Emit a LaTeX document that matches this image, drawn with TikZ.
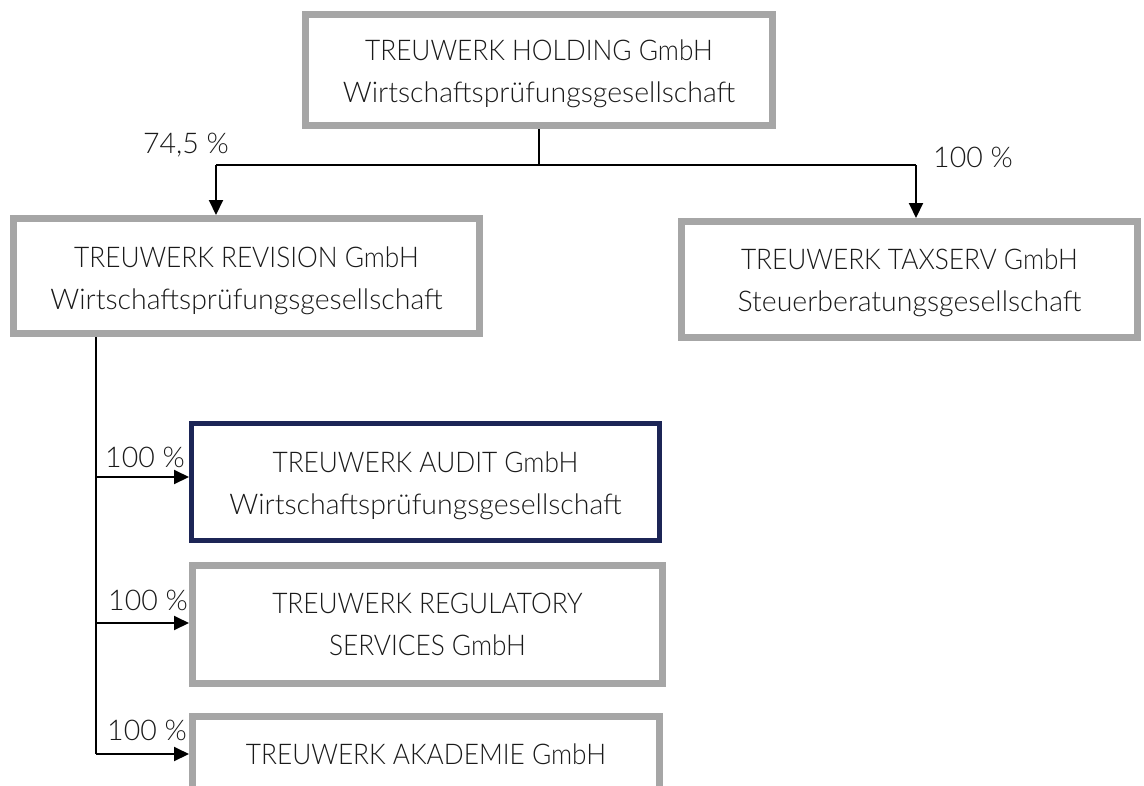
\documentclass[tikz,border=0pt]{standalone}
\usepackage{fontspec}
\usepackage{graphicx}
\IfFontExistsTF{Lato Light}{\setmainfont{Lato Light}\def\fsz{28.5}}{\setmainfont{Carlito}\def\fsz{30.5}}
\usetikzlibrary{arrows.meta}
\definecolor{boxgray}{HTML}{A6A6A6}
\definecolor{navy}{HTML}{1C2556}
\definecolor{txt}{HTML}{1A1A1A}
\newcommand\cpl[1]{\scalebox{0.92}[1]{#1}}
\begin{document}
\begin{tikzpicture}[x=1pt,y=-1pt,
  box/.style={draw=boxgray, line width=7pt, fill=white, inner sep=0pt},
  navybox/.style={box, draw=navy, line width=5pt},
  boxtext/.style={align=center, inner sep=0pt, font=\fontsize{\fsz}{42}\selectfont, text=txt},
  pct/.style={font=\fontsize{\fsz}{34}\selectfont, text=txt, inner sep=0pt},
  conn/.style={line width=2pt, black},
  arrow/.style={conn, -{Triangle[length=15pt,width=14pt]}}]
\useasboundingbox (0,0) rectangle (1144,785);
\clip (0,0) rectangle (1144,785);
% boxes
\node[box, minimum width=467pt, minimum height=111pt] (hold) at (539,70) {};
\node[box, minimum width=466pt, minimum height=115pt] (rev) at (246.5,276) {};
\node[box, minimum width=456pt, minimum height=116pt] (tax) at (909.5,279.5) {};
\node[navybox, minimum width=468pt, minimum height=117pt] (aud) at (425.5,482) {};
\node[box, minimum width=470pt, minimum height=118pt] (reg) at (427.5,624.5) {};
\node[box, minimum width=467pt, minimum height=73pt] (aka) at (426,753) {};
% box texts
\node[boxtext] (holdT) at ([yshift=-4pt]hold.center)
  {\cpl{TREUWERK HOLDING GmbH}\\Wirtschaftsprüfungsgesellschaft};
\node[boxtext] (revT) at ([yshift=-5pt]rev.center)
  {\cpl{TREUWERK REVISION GmbH}\\Wirtschaftsprüfungsgesellschaft};
\node[boxtext] (taxT) at ([yshift=-3pt]tax.center)
  {\cpl{TREUWERK TAXSERV GmbH}\\Steuerberatungsgesellschaft};
\node[boxtext] (audT) at ([yshift=-4pt]aud.center)
  {\cpl{TREUWERK AUDIT GmbH}\\Wirtschaftsprüfungsgesellschaft};
\node[boxtext] (regT) at (reg.center)
  {\cpl{TREUWERK REGULATORY}\\\cpl{SERVICES GmbH}};
\node[boxtext] (akaT) at ([yshift=-1pt]aka.center)
  {\cpl{TREUWERK AKADEMIE GmbH}};
% coordinates
\coordinate (busL) at (216,165);
\coordinate (busR) at (916,165);
\coordinate (trunk) at (96,337);
\coordinate (tA) at (96,477);
\coordinate (tR) at (96,623);
\coordinate (tK) at (96,754);
% connectors
\draw[conn] (hold.south) -- (hold.south |- busL);
\draw[conn] (busL) -- (busR);
\draw[arrow] (busL) -- (busL |- rev.north);
\draw[arrow] (busR) -- (busR |- tax.north);
\draw[conn] (trunk) -- (tK);
\draw[arrow] (tA) -- (tA -| aud.west);
\draw[arrow] (tR) -- (tR -| reg.west);
\draw[arrow] (tK) -- (tK -| aka.west);
% labels
\node[pct] (l1) at (186,145) {74,5 \%};
\node[pct] (l2) at (973,157) {100 \%};
\node[pct] (l3) at (145,457) {100 \%};
\node[pct] (l4) at (148,600) {100 \%};
\node[pct] (l5) at (147,730) {100 \%};
\end{tikzpicture}
\end{document}
